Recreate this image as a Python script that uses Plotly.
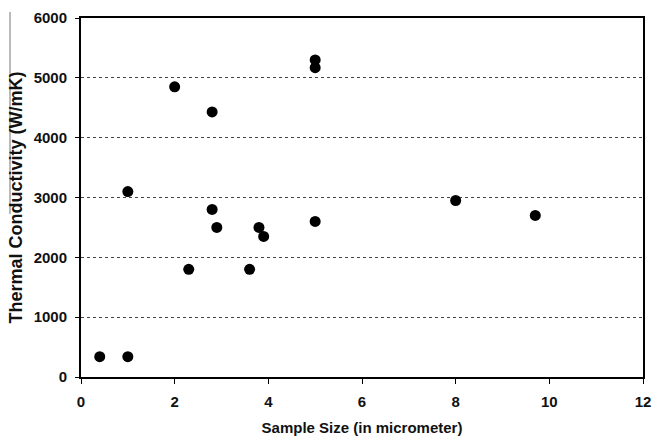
import plotly.graph_objects as go

sample_size = [0.4, 1.0, 1.0, 2.0, 2.3, 2.8, 2.8, 2.9, 3.6, 3.8, 3.9, 5.0, 5.0, 5.0, 8.0, 9.7]
conductivity = [340, 340, 3100, 4850, 1800, 4430, 2800, 2500, 1800, 2500, 2350, 2600, 5300, 5170, 2950, 2700]

x_ticks = [0, 2, 4, 6, 8, 10, 12]
y_ticks = [0, 1000, 2000, 3000, 4000, 5000, 6000]

fig = go.Figure()
fig.add_trace(go.Scatter(
    x=sample_size, y=conductivity, mode="markers",
    marker=dict(color="black", size=11, line=dict(width=0)),
    showlegend=False,
))

font_bold = "Liberation Sans, Arial, sans-serif"
fig.update_layout(
    width=654, height=437,
    margin=dict(l=81, r=11, t=18, b=60, autoexpand=False),
    paper_bgcolor="white", plot_bgcolor="white",
    font=dict(family=font_bold, color="#111", size=15),
    xaxis=dict(
        range=[0, 12], tickvals=x_ticks, ticktext=[f"<b>{v}</b>" for v in x_ticks],
        showgrid=False, zeroline=False, automargin=False,
        showline=True, linecolor="black", linewidth=2, mirror=True,
        ticks="outside", ticklen=5, tickcolor="black", tickwidth=1,
        ticklabelstandoff=5,
        title=dict(text="<b>Sample Size (in micrometer)</b>", font=dict(size=15), standoff=13),
        tickfont=dict(size=15),
    ),
    yaxis=dict(
        range=[0, 6000], tickvals=y_ticks, ticktext=[f"<b>{v}</b>" for v in y_ticks],
        showgrid=True, gridcolor="#444", griddash="dot", gridwidth=1,
        zeroline=False, automargin=False,
        showline=True, linecolor="black", linewidth=2, mirror=True,
        ticks="outside", ticklen=4, tickcolor="black", tickwidth=1,
        ticklabelstandoff=5,
        title=dict(text="<b>Thermal Conductivity (W/mK)</b>", font=dict(size=18), standoff=6),
        tickfont=dict(size=15),
    ),
)

fig.add_shape(type="line", xref="paper", yref="paper",
              x0=-71/562, x1=-71/562, y0=(377-12)/359, y1=(377-214)/359,
              line=dict(color="#777", width=1))

fig.write_html(
    "out.html",
    config={"displayModeBar": False},
    post_script="document.body.style.margin='0';document.body.style.overflow='hidden';",
)
